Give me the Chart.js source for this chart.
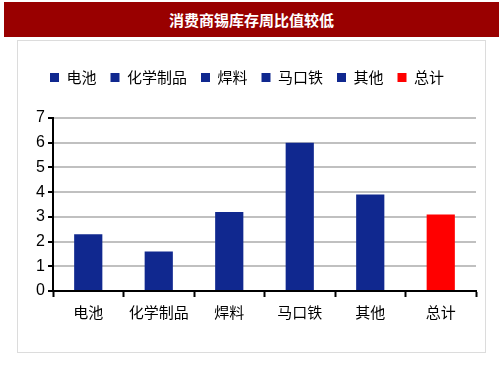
<!DOCTYPE html>
<html>
<head>
  <meta charset="utf-8">
  <title>消费商锡库存周比值较低</title>
  <script src="https://cdn.jsdelivr.net/npm/chart.js"></script>
  <style>
    body { margin: 0; background: #fff; width: 503px; height: 378px; position: relative; }
    #title {
      position: absolute; left: 4px; top: 2px; width: 495px; height: 35px;
      background: #990000; color: #fff; font: bold 15px "Noto Sans CJK SC", sans-serif;
      text-align: center; line-height: 35px;
    }
    #panel {
      position: absolute; left: 17px; top: 40px; width: 467px; height: 311px;
      border: 1px solid #dcdcdc;
    }
  </style>
</head>
<body>
  <div id="title">消费商锡库存周比值较低</div>
  <div id="panel"><canvas id="myChart" width="467" height="311"></canvas></div>
  <script>
    var categories = ['电池', '化学制品', '焊料', '马口铁', '其他', '总计'];
    var values = [2.3, 1.6, 3.2, 6.0, 3.9, 3.1];
    var barColors = ['#10288f', '#10288f', '#10288f', '#10288f', '#10288f', '#ff0000'];
    var yTicks = [0, 1, 2, 3, 4, 5, 6, 7];

    var cjk = '"Noto Sans CJK SC", sans-serif';
    var ctx = document.getElementById('myChart').getContext('2d');
    var chart = new Chart(ctx, {
      type: 'bar',
      data: {
        labels: categories,
        datasets: [{
          data: values,
          backgroundColor: barColors,
          barPercentage: 0.4,
          categoryPercentage: 1.0
        }]
      },
      options: {
        responsive: false,
        animation: false,
        layout: { padding: { left: 0, right: 9, top: 15, bottom: 25 } },
        plugins: {
          tooltip: { enabled: false },
          legend: {
            position: 'top',
            onClick: null,
            labels: {
              boxWidth: 9, boxHeight: 9, padding: 14,
              color: '#000',
              font: { family: cjk, size: 15 },
              generateLabels: function() {
                return categories.map(function(c, i) {
                  return { text: c, fillStyle: barColors[i], strokeStyle: barColors[i], lineWidth: 0, index: i };
                });
              }
            }
          }
        },
        scales: {
          x: {
            grid: { drawOnChartArea: false, offset: true, tickLength: 6, tickColor: '#000', tickWidth: 2 },
            border: { color: '#000', width: 2 },
            ticks: { color: '#000', font: { family: cjk, size: 15 }, padding: 6 }
          },
          y: {
            min: 0, max: 7,
            afterFit: function(s) { s.width = 35; },
            afterBuildTicks: function(s) { s.ticks = yTicks.map(function(v) { return { value: v }; }); },
            grid: { color: '#c0c0c0', lineWidth: 2, tickLength: 5, tickColor: '#000', tickWidth: 2 },
            border: { color: '#000', width: 2 },
            ticks: { color: '#000', font: { family: 'Liberation Sans', size: 16 }, padding: 3 }
          }
        }
      },
      plugins: [{
        id: 'legendPad',
        beforeInit: function(chart) {
          var fit = chart.legend.fit;
          chart.legend.fit = function() { fit.bind(chart.legend)(); this.height += 23; };
        }
      }]
    });
  </script>
</body>
</html>
